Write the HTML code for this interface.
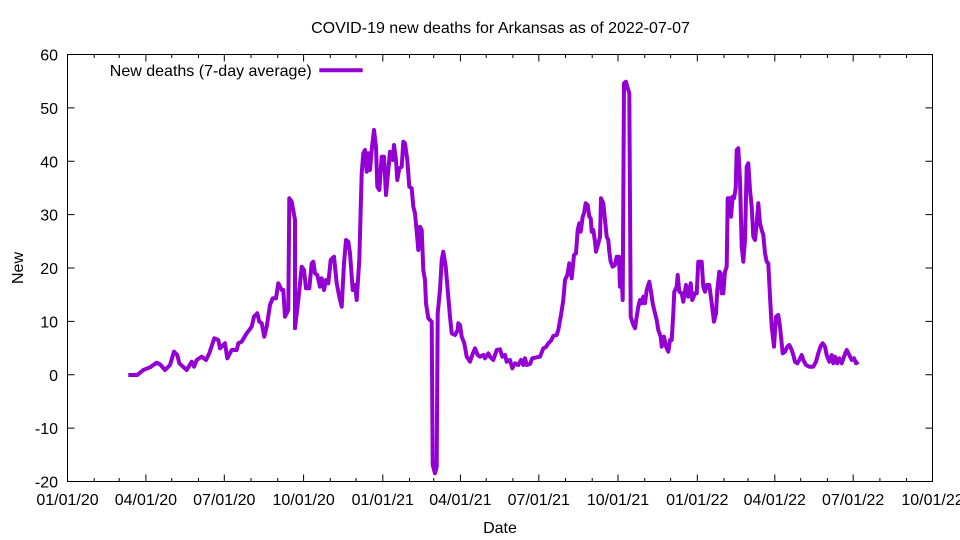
<!DOCTYPE html>
<html>
<head>
<meta charset="utf-8">
<style>
html,body{margin:0;padding:0;background:#fff;}
svg{display:block;}
text{font-family:"Liberation Sans",Arial,sans-serif;font-size:16px;fill:#000;}
</style>
</head>
<body>
<svg width="960" height="540" viewBox="0 0 960 540" xmlns="http://www.w3.org/2000/svg">
<rect x="0" y="0" width="960" height="540" fill="#fff"/>
<!-- ticks -->
<g stroke="#000" stroke-width="1" fill="none">
  <!-- y ticks left and right -->
  <path d="M67.5 54.5h7M67.5 107.9h7M67.5 161.3h7M67.5 214.6h7M67.5 268h7M67.5 321.4h7M67.5 374.75h7M67.5 428.1h7M67.5 481.5h7
           M932.5 54.5h-7M932.5 107.9h-7M932.5 161.3h-7M932.5 214.6h-7M932.5 268h-7M932.5 321.4h-7M932.5 374.75h-7M932.5 428.1h-7M932.5 481.5h-7"/>
  <!-- x major ticks bottom and top -->
  <path d="M67.5 481.5v-7M145.9 481.5v-7M224.3 481.5v-7M303.6 481.5v-7M382.8 481.5v-7M460.4 481.5v-7M538.8 481.5v-7M618 481.5v-7M697.3 481.5v-7M774.8 481.5v-7M853.2 481.5v-7M932.5 481.5v-7
           M67.5 54.5v7M145.9 54.5v7M224.3 54.5v7M303.6 54.5v7M382.8 54.5v7M460.4 54.5v7M538.8 54.5v7M618 54.5v7M697.3 54.5v7M774.8 54.5v7M853.2 54.5v7M932.5 54.5v7"/>
  <!-- x minor ticks -->
  <path d="M94.2 481.5v-3.5M119.2 481.5v-3.5M171.7 481.5v-3.5M198.5 481.5v-3.5M251 481.5v-3.5M277.7 481.5v-3.5M330.3 481.5v-3.5M356.1 481.5v-3.5M409.5 481.5v-3.5M433.7 481.5v-3.5M486.2 481.5v-3.5M512.9 481.5v-3.5M565.5 481.5v-3.5M592.2 481.5v-3.5M644.7 481.5v-3.5M670.6 481.5v-3.5M724 481.5v-3.5M748.1 481.5v-3.5M800.7 481.5v-3.5M827.4 481.5v-3.5M879.9 481.5v-3.5M906.6 481.5v-3.5
           M94.2 54.5v3.5M119.2 54.5v3.5M171.7 54.5v3.5M198.5 54.5v3.5M251 54.5v3.5M277.7 54.5v3.5M330.3 54.5v3.5M356.1 54.5v3.5M409.5 54.5v3.5M433.7 54.5v3.5M486.2 54.5v3.5M512.9 54.5v3.5M565.5 54.5v3.5M592.2 54.5v3.5M644.7 54.5v3.5M670.6 54.5v3.5M724 54.5v3.5M748.1 54.5v3.5M800.7 54.5v3.5M827.4 54.5v3.5M879.9 54.5v3.5M906.6 54.5v3.5"/>
  <rect x="67.5" y="54.5" width="865" height="427"/>
</g>
<!-- y labels -->
<g text-anchor="end">
  <text x="58" y="60.5">60</text>
  <text x="58" y="113.9">50</text>
  <text x="58" y="167.3">40</text>
  <text x="58" y="220.6">30</text>
  <text x="58" y="274">20</text>
  <text x="58" y="327.4">10</text>
  <text x="58" y="380.75">0</text>
  <text x="58" y="434.1">-10</text>
  <text x="58" y="487.5">-20</text>
</g>
<!-- x labels -->
<g text-anchor="middle">
  <text x="67.5" y="505">01/01/20</text>
  <text x="145.9" y="505">04/01/20</text>
  <text x="224.3" y="505">07/01/20</text>
  <text x="303.6" y="505">10/01/20</text>
  <text x="382.8" y="505">01/01/21</text>
  <text x="460.4" y="505">04/01/21</text>
  <text x="538.8" y="505">07/01/21</text>
  <text x="618" y="505">10/01/21</text>
  <text x="697.3" y="505">01/01/22</text>
  <text x="774.8" y="505">04/01/22</text>
  <text x="853.2" y="505">07/01/22</text>
  <text x="932.5" y="505">10/01/22</text>
  <text x="500.5" y="33">COVID-19 new deaths for Arkansas as of 2022-07-07</text>
  <text x="500" y="533">Date</text>
  <text transform="translate(23,268) rotate(-90)">New</text>
</g>
<!-- legend -->
<text x="311.7" y="76" text-anchor="end">New deaths (7-day average)</text>
<line x1="319.3" y1="70.3" x2="362.7" y2="70.3" stroke="#9400D3" stroke-width="4"/>
<!-- data -->
<polyline fill="none" stroke="#9400D3" stroke-width="4" stroke-linejoin="round" points="
128.3,375 137.3,375 143.3,370 150,367.3 156.7,362.7 160,364.3 165,370 170,365 174,351.7 177.3,355 179.3,363.3 186.7,370 191.7,361.7 194,366.7 196.7,360 201.7,356.7 206,360 209.3,353.3 214.3,338.3 218.3,340 220,348.3 225,343.3 227.3,358.3 231.7,350 236.7,350 238.3,343.3 241.7,341.7 246.7,333.3 251.7,326.7 254,316.7 257.3,313.3 259.3,321.7 261.7,323.3 264.3,336.7 266.7,326.7 270,305 272.7,298.3 276,298.3 278.3,283.3 281.7,290 283.3,290 285,316.7 288.3,310
289.3,198.3 291.7,201.7 295,220 295,328.3 298.3,300 301.7,266.7 304,270 306,288.3 309.3,288.3 311.7,263.3 313.3,261.7 315,273.3 317.3,275 320,286.7 321.7,278.3 324,290 326,280 328.3,283.3 330.7,260 334,256.7 336.7,283.3 339.3,296.7 341.7,306.7 344,263.3 346,240 348.3,241.7 350,253.3 352.7,290 355,285 356.7,300 359.3,260 361.7,173.3 363.3,153.3 365,150 366.7,171.7 368.3,153.3 370,170 371.7,150 374,130 376,146.7 377.3,186.7 379.3,190 381.7,156.7 384,156.7 386,195 388.3,170 390,151.7 392.7,160 394,145 396,160 397.3,180 399.3,168.3 401.7,166.7 403.3,141.7 405,143.3 407.3,160 409.3,186.7 411.7,188.3 413.3,206.7 415,213.3 416.7,231.7 418.3,250 420,226.7 421.7,230 423.3,270 425,280 426,303.3 428.3,318.3 431.7,321.7 432.7,465 435,473.3 436.7,466.7 437.7,313.3
440,290 441.7,260 443.3,251.7 445.7,266.7 447.7,290 450,316.7 451.7,333.3 455,335 457.7,330 458.3,323.3 460,325 461.7,336.7 464.3,343.3 466.7,356.7 470,361.7 472.3,355 475,348.3 477.7,355 480,356.7 483.3,355 485,358.3 488.3,353.3 490,356.7 493.3,360 496.7,350 500,349.3 502.3,356.7 505,355 506.7,361.7 510,360 512.3,368.3 515,363.3 518.3,365 521,360 523.3,365 525,358.3 526.7,365 530,364 532.3,358.3 536.7,357.3 540,356.7 543.3,348.3 545.7,347.3 548.3,343.3 551,340.7 553.3,336 556.7,335 558.3,330 561,315 563.3,300 565,280 567.3,275 569.3,263.3 571.7,278.3 574,255 576,253.3 577.7,230
579.3,223.3 580.7,231.7 582.7,216.7 584,213.3 585.7,203.3 587.7,205 589.3,216.7 590.7,218.3 591.7,231.7 593.3,230 595,241.7 596,251.7 598.3,243.3 600,236.7 601,198.3 603.3,203.3 605,220 606.7,236.7 608.3,240 609.3,251.7 610.7,261.7 612.7,266.7 615,265 616.7,256.7 619,256.7 620,286.7 621.7,276.7 622.7,300 624,83.3 626,81.7 627.3,86.7 629.3,93.3 630.7,316.7 632.7,323.3 635,328.3 636.7,316.7 638.3,306.7 640,300 641.7,303.3 643.3,296.7 645,303.3 646.7,290 649.3,281.7 651,291.7 652.7,303.3 655,313.3 656.7,320 658.3,330 660.7,336.7
661.7,346.7 664,336.7 666,346.7 668.3,351.7 670,340 671.7,340 673.3,313.3 674.3,291.7 676.7,286.7 677.7,275 679.3,291.7 681.7,293.3 683.3,301.7 686,285 688.3,296.7 690.7,283.3 692.3,300 695,293.3 696.7,293.3 698.3,261.7 701.7,261.7 703.3,286.7 705,291.7 706.7,285 709.3,285 711.7,303.3 714,321.7 716,313.3 717.3,290 719.3,271.7 720.7,273.3 721.7,293.3 723.3,293.3 725,271.7 726.7,266.7 727.7,198.3 730,198.3 731,216.7 732.7,196.7 734,198.3 735.7,188.3 736.7,150 738.3,148.3 740,180 741.7,246.7 743.3,261.7 745,240 746.7,166.7 748.3,163.3 750,190 751.7,206.7 753.3,236.7 755,240 756.7,223.3 758.3,203.3 760,223.3 761.7,230 763.3,235 765,253.3 766.7,261.7 768.3,263.3 770,296.7 771.7,326.7 774,346.7 776,316.7 778.3,315 780,326.7 782.7,353.3 785,351.7 787.3,346.7 789.3,345 791.7,350 793.3,355 795,361.7 797.3,363.3 799.3,360 801.7,355 803.3,360 806,365 809.3,366.7 813.3,366.7 816,361.7 818.3,353.3 820.7,346 822.7,343.3 825,346.7 826.7,355 829.3,361.7 831.7,355 833.3,363.3 835,356.7 837.3,363.3 839.3,358.3 841.7,363.3 844,356.7 846.7,350 849.3,355 851.7,360 854,358.3 856,363.3 858.3,361.7"/>
</svg>
</body>
</html>
